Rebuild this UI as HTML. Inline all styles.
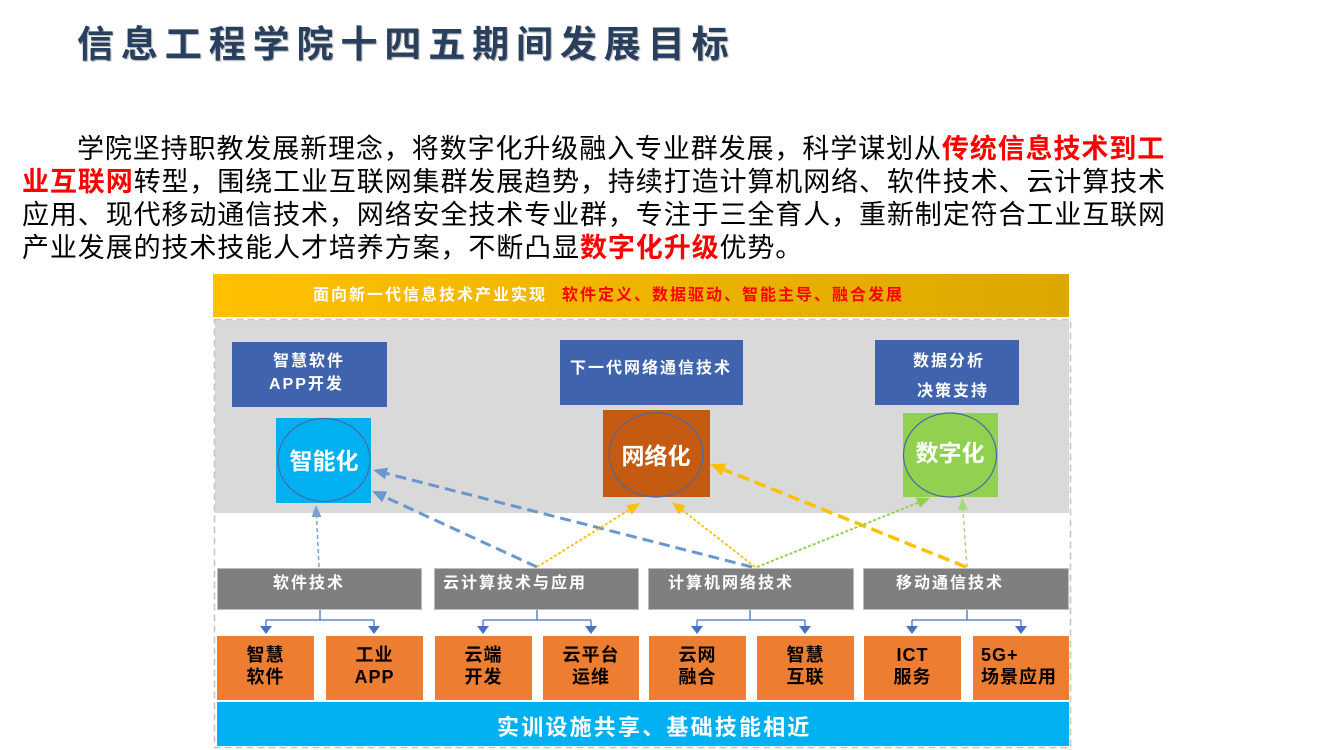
<!DOCTYPE html>
<html>
<head>
<meta charset="utf-8">
<style>
  html,body{margin:0;padding:0;}
  body{width:1332px;height:750px;background:#fff;position:relative;overflow:hidden;
    font-family:"Liberation Sans","Noto Sans CJK SC",sans-serif;}
  .a{position:absolute;white-space:nowrap;}
  .title{left:77px;top:26px;font-size:37px;line-height:37px;font-weight:bold;color:#283f5e;
    letter-spacing:6.9px;text-shadow:1px 1px 1px #b0b0b0;}
  .p{font-size:27px;line-height:33px;letter-spacing:0.9px;color:#000;}
  .r{color:#ff0000;font-weight:bold;}
  .box{position:absolute;}
  .lbl{position:absolute;white-space:nowrap;font-weight:bold;font-size:16px;line-height:18px;letter-spacing:2px;color:#fff;}
  .gray{position:absolute;background:#7f7f7f;border:1px solid #bdbdbd;box-sizing:border-box;top:568px;height:42px;}
  .or{position:absolute;background:#ed7d31;top:636px;height:64px;width:97px;color:#000;font-weight:bold;
    font-size:18px;line-height:22px;text-align:center;letter-spacing:1px;box-sizing:border-box;padding-top:8px;}
</style>
</head>
<body>
<div class="a title">信息工程学院十四五期间发展目标</div>

<div class="a p" style="left:77px;top:133px;">学院坚持职教发展新理念，将数字化升级融入专业群发展，科学谋划从<span class="r">传统信息技术到工</span></div>
<div class="a p" style="left:22px;top:166px;"><span class="r">业互联网</span>转型，围绕工业互联网集群发展趋势，持续打造计算机网络、软件技术、云计算技术</div>
<div class="a p" style="left:22px;top:199px;">应用、现代移动通信技术，网络安全技术专业群，专注于三全育人，重新制定符合工业互联网</div>
<div class="a p" style="left:22px;top:232px;">产业发展的技术技能人才培养方案，不断凸显<span class="r">数字化升级</span>优势。</div>

<!-- banner -->
<div class="box" style="left:213px;top:274px;width:856px;height:43px;background:linear-gradient(to right,#ffc000,#dca800);"></div>
<div class="lbl" style="left:313px;top:287px;">面向新一代信息技术产业实现</div>
<div class="lbl" style="left:562px;top:287px;color:#ff0000;">软件定义、数据驱动、智能主导、融合发展</div>

<!-- grey area -->
<div class="box" style="left:215px;top:320px;width:854px;height:193px;background:#d9d9d9;"></div>

<!-- blue boxes -->
<div class="box" style="left:232px;top:342px;width:155px;height:65px;background:#3f63ad;"></div>
<div class="lbl" style="left:273px;top:353px;">智慧软件</div>
<div class="lbl" style="left:269px;top:376px;">APP开发</div>

<div class="box" style="left:560px;top:340px;width:183px;height:65px;background:#3f63ad;"></div>
<div class="lbl" style="left:570px;top:360px;">下一代网络通信技术</div>

<div class="box" style="left:875px;top:340px;width:144px;height:65px;background:#3f63ad;"></div>
<div class="lbl" style="left:913px;top:353px;">数据分析</div>
<div class="lbl" style="left:917px;top:383px;">决策支持</div>

<!-- colored squares -->
<div class="box" style="left:276px;top:418px;width:95px;height:85px;background:#00b0f0;"></div>
<div class="box" style="left:603px;top:410px;width:107px;height:87px;background:#c55a11;"></div>
<div class="box" style="left:903px;top:413px;width:95px;height:84px;background:#92d050;"></div>

<!-- gray boxes -->
<div class="gray" style="left:217px;width:205px;"></div>
<div class="gray" style="left:434px;width:205px;"></div>
<div class="gray" style="left:648px;width:206px;"></div>
<div class="gray" style="left:863px;width:206px;"></div>
<div class="lbl" style="left:273px;top:575px;">软件技术</div>
<div class="lbl" style="left:443px;top:575px;">云计算技术与应用</div>
<div class="lbl" style="left:668px;top:575px;">计算机网络技术</div>
<div class="lbl" style="left:896px;top:575px;">移动通信技术</div>

<!-- orange boxes -->
<div class="or" style="left:217px;">智慧<br>软件</div>
<div class="or" style="left:326px;">工业<br>APP</div>
<div class="or" style="left:435px;">云端<br>开发</div>
<div class="or" style="left:543px;width:96px;">云平台<br>运维</div>
<div class="or" style="left:649px;">云网<br>融合</div>
<div class="or" style="left:757px;">智慧<br>互联</div>
<div class="or" style="left:864px;">ICT<br>服务</div>
<div class="or" style="left:973px;width:96px;text-align:left;padding-left:8px;">5G+<br>场景应用</div>

<!-- bottom bar -->
<div class="box" style="left:217px;top:702px;width:852px;height:44px;background:#00b0f0;"></div>
<div class="a" style="left:497px;top:715px;font-size:22px;line-height:26px;letter-spacing:2.2px;color:#fff;font-weight:bold;">实训设施共享、基础技能相近</div>

<svg class="a" style="left:0;top:0;" width="1332" height="750" viewBox="0 0 1332 750">
  <!-- outer dashed border -->
  <rect x="214.5" y="319.5" width="856" height="428" fill="none" stroke="#c6c6c6" stroke-width="1.6" stroke-dasharray="7 4"/>

  <!-- ellipses -->
  <ellipse cx="324" cy="460" rx="46" ry="41.5" fill="none" stroke="#4a68a8" stroke-width="1.2"/>
  <ellipse cx="656" cy="455" rx="47" ry="42" fill="none" stroke="#4a68a8" stroke-width="1.2"/>
  <ellipse cx="950" cy="455" rx="46.5" ry="42" fill="none" stroke="#4a68a8" stroke-width="1.2"/>
  <text x="324" y="469" text-anchor="middle" font-family="Liberation Sans, Noto Sans CJK SC, sans-serif" font-size="23" font-weight="bold" fill="#fff">智能化</text>
  <text x="656" y="464" text-anchor="middle" font-family="Liberation Sans, Noto Sans CJK SC, sans-serif" font-size="23" font-weight="bold" fill="#fff">网络化</text>
  <text x="950" y="461" text-anchor="middle" font-family="Liberation Sans, Noto Sans CJK SC, sans-serif" font-size="23" font-weight="bold" fill="#fff">数字化</text>

  <!-- arrow 1 blue thin vertical -->
  <line x1="319" y1="567" x2="316.6" y2="517" stroke="#7ba0d4" stroke-width="1.5" stroke-dasharray="4 3"/>
  <polygon points="316,505 321.5,517 311.5,517" fill="#7ba0d4"/>
  <!-- arrow 2 blue thick -->
  <line x1="537" y1="567" x2="384.7" y2="496.9" stroke="#6c97cc" stroke-width="3" stroke-dasharray="11 6"/>
  <polygon points="372,491 387.2,491.4 382.2,502.3" fill="#6c97cc"/>
  <!-- arrow 3 blue thick -->
  <line x1="752" y1="567" x2="386.6" y2="473.5" stroke="#6c97cc" stroke-width="3" stroke-dasharray="11 6"/>
  <polygon points="373,470 388.1,467.7 385.1,479.3" fill="#6c97cc"/>
  <!-- arrow 4 yellow thin -->
  <line x1="537" y1="567" x2="629" y2="509.9" stroke="#ffc000" stroke-width="1.8" stroke-dasharray="3 2"/>
  <polygon points="640,503 631.9,514.5 626.1,505.2" fill="#ffc000"/>
  <!-- arrow 5 yellow thin -->
  <line x1="755" y1="567" x2="682.2" y2="510" stroke="#ffc000" stroke-width="1.8" stroke-dasharray="3 2"/>
  <polygon points="672,502 685.6,505.7 678.8,514.3" fill="#ffc000"/>
  <!-- arrow 6 yellow thick -->
  <line x1="966" y1="567" x2="723.9" y2="469.6" stroke="#ffc000" stroke-width="3.5" stroke-dasharray="12 6"/>
  <polygon points="710,464 726.3,463.6 721.5,475.6" fill="#ffc000"/>
  <!-- arrow 7 green dotted -->
  <line x1="757" y1="567" x2="917.9" y2="502.8" stroke="#92d050" stroke-width="2" stroke-dasharray="3 2"/>
  <polygon points="930,498 920,507.9 915.9,497.7" fill="#92d050"/>
  <!-- arrow 8 green thin vertical -->
  <line x1="967" y1="567" x2="962.9" y2="510" stroke="#a6d982" stroke-width="1.5" stroke-dasharray="4 3"/>
  <polygon points="962,497 967.9,509.6 957.9,510.3" fill="#a6d982"/>

  <!-- brackets -->
  <g stroke="#4472c4" stroke-width="1.3" fill="none">
    <path d="M320,610 V620 M266,620 H374 M266,620 V627 M374,620 V627"/>
    <path d="M537,610 V620 M483,620 H591 M483,620 V627 M591,620 V627"/>
    <path d="M750,610 V620 M697,620 H805 M697,620 V627 M805,620 V627"/>
    <path d="M967,610 V620 M912,620 H1021 M912,620 V627 M1021,620 V627"/>
  </g>
  <g fill="#4472c4">
    <polygon points="260,626 272,626 266,634"/>
    <polygon points="368,626 380,626 374,634"/>
    <polygon points="477,626 489,626 483,634"/>
    <polygon points="585,626 597,626 591,634"/>
    <polygon points="691,626 703,626 697,634"/>
    <polygon points="799,626 811,626 805,634"/>
    <polygon points="906,626 918,626 912,634"/>
    <polygon points="1015,626 1027,626 1021,634"/>
  </g>
</svg>
</body>
</html>
